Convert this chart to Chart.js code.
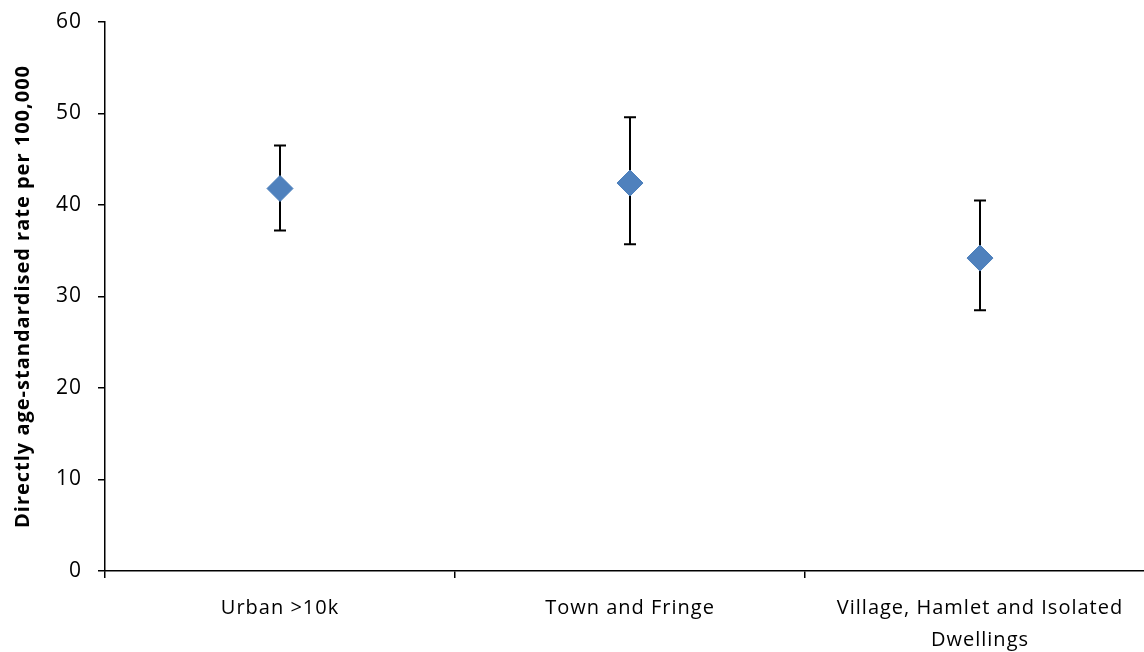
<!DOCTYPE html>
<html>
<head>
<meta charset="utf-8">
<title>Directly age-standardised rate</title>
<script src="https://cdn.jsdelivr.net/npm/chart.js@4/dist/chart.umd.min.js"></script>
<style>
    html, body { margin: 0; padding: 0; background: #fff; overflow: hidden; }
    #wrap { width: 1169px; height: 652px; }
</style>
</head>
<body>
<div id="wrap"><canvas id="rateChart" width="1169" height="652"></canvas></div>
<script>
// Data
const categories = ['Urban >10k', 'Town and Fringe', ['Village, Hamlet and Isolated', 'Dwellings']];
const rates = [41.8, 42.4, 34.2];
const lowerCI = [37.2, 35.7, 28.5];
const upperCI = [46.5, 49.6, 40.5];
const yTicks = [0, 10, 20, 30, 40, 50, 60];

const FONT = "'Open Sans', 'Noto Sans', sans-serif";

// Excel-like loose letter spacing for all canvas text
const spacing = {
    id: 'spacing',
    beforeUpdate(chart) { chart.ctx.letterSpacing = '1px'; },
    beforeDraw(chart) { chart.ctx.letterSpacing = '1px'; }
};

// Draws the confidence interval whiskers behind the markers
const errorBars = {
    id: 'errorBars',
    beforeDatasetsDraw(chart) {
        const ctx = chart.ctx;
        const xs = chart.scales.x;
        const ys = chart.scales.y;
        ctx.save();
        ctx.strokeStyle = '#000';
        ctx.lineWidth = 2;
        rates.forEach((v, i) => {
            const px = xs.getPixelForValue(i);
            const top = ys.getPixelForValue(upperCI[i]);
            const bot = ys.getPixelForValue(lowerCI[i]);
            ctx.beginPath();
            ctx.moveTo(px, top); ctx.lineTo(px, bot);
            ctx.moveTo(px - 6, top); ctx.lineTo(px + 6, top);
            ctx.moveTo(px - 6, bot); ctx.lineTo(px + 6, bot);
            ctx.stroke();
        });
        ctx.restore();
    }
};

const ctx = document.getElementById('rateChart').getContext('2d');
new Chart(ctx, {
    type: 'line',
    data: {
        labels: categories,
        datasets: [{
            data: rates,
            showLine: false,
            pointStyle: 'rectRot',
            pointRadius: 13,
            pointHoverRadius: 13,
            pointBackgroundColor: '#4F81BD',
            pointBorderColor: '#4A7EBB',
            pointBorderWidth: 1
        }]
    },
    options: {
        responsive: false,
        animation: false,
        layout: { padding: { top: 22, left: 0, right: 0, bottom: 0 } },
        plugins: {
            legend: { display: false },
            tooltip: { enabled: false }
        },
        scales: {
            x: {
                type: 'category',
                offset: true,
                grid: {
                    offset: true,
                    drawOnChartArea: false,
                    drawTicks: true,
                    tickLength: 7,
                    color: '#000',
                    lineWidth: 1.5
                },
                border: { display: true, color: '#000', width: 1.5 },
                ticks: {
                    color: '#000',
                    padding: 14,
                    maxRotation: 0,
                    autoSkip: false,
                    font: { family: FONT, size: 20, lineHeight: 1.6 }
                },
                afterFit(scale) { scale.height = 81; }
            },
            y: {
                min: 0,
                max: 60,
                afterBuildTicks(scale) {
                    scale.ticks = yTicks.map(v => ({ value: v }));
                },
                grid: {
                    drawOnChartArea: false,
                    drawTicks: true,
                    tickLength: 7,
                    color: '#000',
                    lineWidth: 1.5
                },
                border: { display: true, color: '#000', width: 1.5 },
                ticks: {
                    color: '#000',
                    padding: 16,
                    font: { family: FONT, size: 21 }
                },
                title: {
                    display: true,
                    text: 'Directly age-standardised rate per 100,000',
                    color: '#000',
                    padding: { top: 11, bottom: 0 },
                    font: { family: FONT, size: 20, weight: 'bold' }
                },
                afterFit(scale) {
                    scale.width = 105;
                    scale.paddingTop = 10;
                    scale.paddingBottom = 10;
                }
            }
        }
    },
    plugins: [spacing, errorBars]
});
</script>
</body>
</html>
